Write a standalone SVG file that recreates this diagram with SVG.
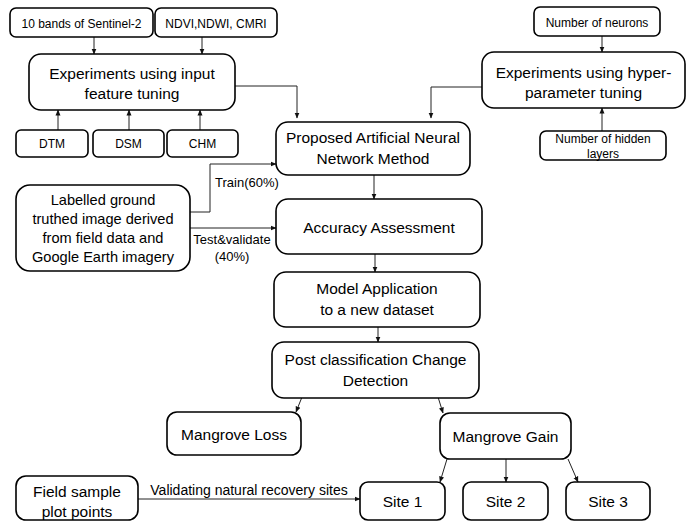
<svg xmlns="http://www.w3.org/2000/svg" width="686" height="521" viewBox="0 0 686 521">
<style>
.b{fill:#fff;stroke:#000;stroke-width:1.6}
.t{font-family:"Liberation Sans",Arial,sans-serif;fill:#000;text-anchor:middle}
.l{font-size:15.5px}
.k{font-size:14.6px}
.s{font-size:12px}
.e{font-size:13px}
.c{fill:none;stroke:#222;stroke-width:1}
</style>
<defs>
<marker id="a" markerWidth="6" markerHeight="6" refX="5.5" refY="3" orient="auto" markerUnits="userSpaceOnUse">
<path d="M0,0.5 L6,3 L0,5.5 z" fill="#111"/>
</marker>
</defs>
<rect width="686" height="521" fill="#fff"/>
<g id="connectors">
<path class="c" d="M94,37 V54" marker-end="url(#a)"/>
<path class="c" d="M202,37 V54" marker-end="url(#a)"/>
<path class="c" d="M58,130 V110" marker-end="url(#a)"/>
<path class="c" d="M129,130 V110" marker-end="url(#a)"/>
<path class="c" d="M200,130 V110" marker-end="url(#a)"/>
<path class="c" d="M235,86 H297 V118" marker-end="url(#a)"/>
<path class="c" d="M602,36 V52" marker-end="url(#a)"/>
<path class="c" d="M602,131 V108" marker-end="url(#a)"/>
<path class="c" d="M482,87 H431 V118" marker-end="url(#a)"/>
<path class="c" d="M190,212 H210 V164 H276" marker-end="url(#a)"/>
<path class="c" d="M190,228 H276" marker-end="url(#a)"/>
<path class="c" d="M374,175 V199" marker-end="url(#a)"/>
<path class="c" d="M375,254 V272" marker-end="url(#a)"/>
<path class="c" d="M378,327 V342" marker-end="url(#a)"/>
<path class="c" d="M302,397 L296,412" marker-end="url(#a)"/>
<path class="c" d="M438,397 L443,413" marker-end="url(#a)"/>
<path class="c" d="M447,459 L440,482" marker-end="url(#a)"/>
<path class="c" d="M506,459 V482" marker-end="url(#a)"/>
<path class="c" d="M568,459 L578,482" marker-end="url(#a)"/>
<path class="c" d="M138,499 H360" marker-end="url(#a)"/>
<text class="t e" x="247" y="187">Train(60%)</text>
<text class="t e" x="232" y="244">Test&amp;validate</text>
<text class="t e" x="232" y="261">(40%)</text>
<text class="t e" x="249" y="495" style="font-size:14px">Validating natural recovery sites</text>
</g>
<g id="n-sentinel"><rect class="b" x="10" y="8" width="143" height="29" rx="6"/><text class="t s" x="81.5" y="28">10 bands of Sentinel-2</text></g>
<g id="n-indices"><rect class="b" x="155" y="8" width="122" height="29" rx="6"/><text class="t s" x="216" y="28">NDVI,NDWI, CMRI</text></g>
<g id="n-input"><rect class="b" x="29" y="54" width="206" height="56" rx="12"/><text class="t l" x="132" y="79">Experiments using input</text><text class="t l" x="132" y="99">feature tuning</text></g>
<g id="n-dtm"><rect class="b" x="16" y="130" width="72" height="27" rx="5"/><text class="t s" x="52" y="148">DTM</text></g>
<g id="n-dsm"><rect class="b" x="93" y="130" width="71" height="27" rx="5"/><text class="t s" x="128.5" y="148">DSM</text></g>
<g id="n-chm"><rect class="b" x="167" y="130" width="71" height="27" rx="5"/><text class="t s" x="202.5" y="148">CHM</text></g>
<g id="n-neurons"><rect class="b" x="534" y="7" width="126" height="29" rx="6"/><text class="t s" x="597" y="27">Number of neurons</text></g>
<g id="n-hyper"><rect class="b" x="482" y="52" width="203" height="56" rx="12"/><text class="t l" x="583.5" y="78">Experiments using hyper-</text><text class="t l" x="583.5" y="98">parameter tuning</text></g>
<g id="n-hidden"><rect class="b" x="540" y="131" width="126" height="29" rx="6"/><text class="t s" x="603" y="143">Number of hidden</text><text class="t s" x="603" y="158">layers</text></g>
<g id="n-ann"><rect class="b" x="276" y="122" width="194" height="53" rx="12"/><text class="t l" x="373" y="143">Proposed Artificial Neural</text><text class="t l" x="373" y="164">Network Method</text></g>
<g id="n-labelled"><rect class="b" x="16" y="185" width="174" height="86" rx="14"/><text class="t k" x="103" y="205">Labelled ground</text><text class="t k" x="103" y="224">truthed image derived</text><text class="t k" x="103" y="243">from field data and</text><text class="t k" x="103" y="262">Google Earth imagery</text></g>
<g id="n-accuracy"><rect class="b" x="276" y="199" width="206" height="55" rx="12"/><text class="t l" x="379" y="233">Accuracy Assessment</text></g>
<g id="n-model"><rect class="b" x="274" y="272" width="206" height="55" rx="12"/><text class="t l" x="377" y="294">Model Application</text><text class="t l" x="377" y="315">to a new dataset</text></g>
<g id="n-post"><rect class="b" x="272" y="342" width="207" height="56" rx="12"/><text class="t l" x="375.5" y="365">Post classification Change</text><text class="t l" x="375.5" y="386">Detection</text></g>
<g id="n-loss"><rect class="b" x="167" y="412" width="134" height="43" rx="10"/><text class="t l" x="234" y="440">Mangrove Loss</text></g>
<g id="n-gain"><rect class="b" x="440" y="413" width="131" height="46" rx="10"/><text class="t l" x="505.5" y="442">Mangrove Gain</text></g>
<g id="n-field"><rect class="b" x="16" y="476" width="122" height="44" rx="10"/><text class="t l" x="77" y="497">Field sample</text><text class="t l" x="77" y="517">plot points</text></g>
<g id="n-site1"><rect class="b" x="360" y="482" width="85" height="38" rx="8"/><text class="t l" x="402.5" y="507">Site 1</text></g>
<g id="n-site2"><rect class="b" x="463" y="482" width="85" height="38" rx="8"/><text class="t l" x="505.5" y="507">Site 2</text></g>
<g id="n-site3"><rect class="b" x="566" y="482" width="84" height="38" rx="8"/><text class="t l" x="608" y="507">Site 3</text></g>
</svg>
